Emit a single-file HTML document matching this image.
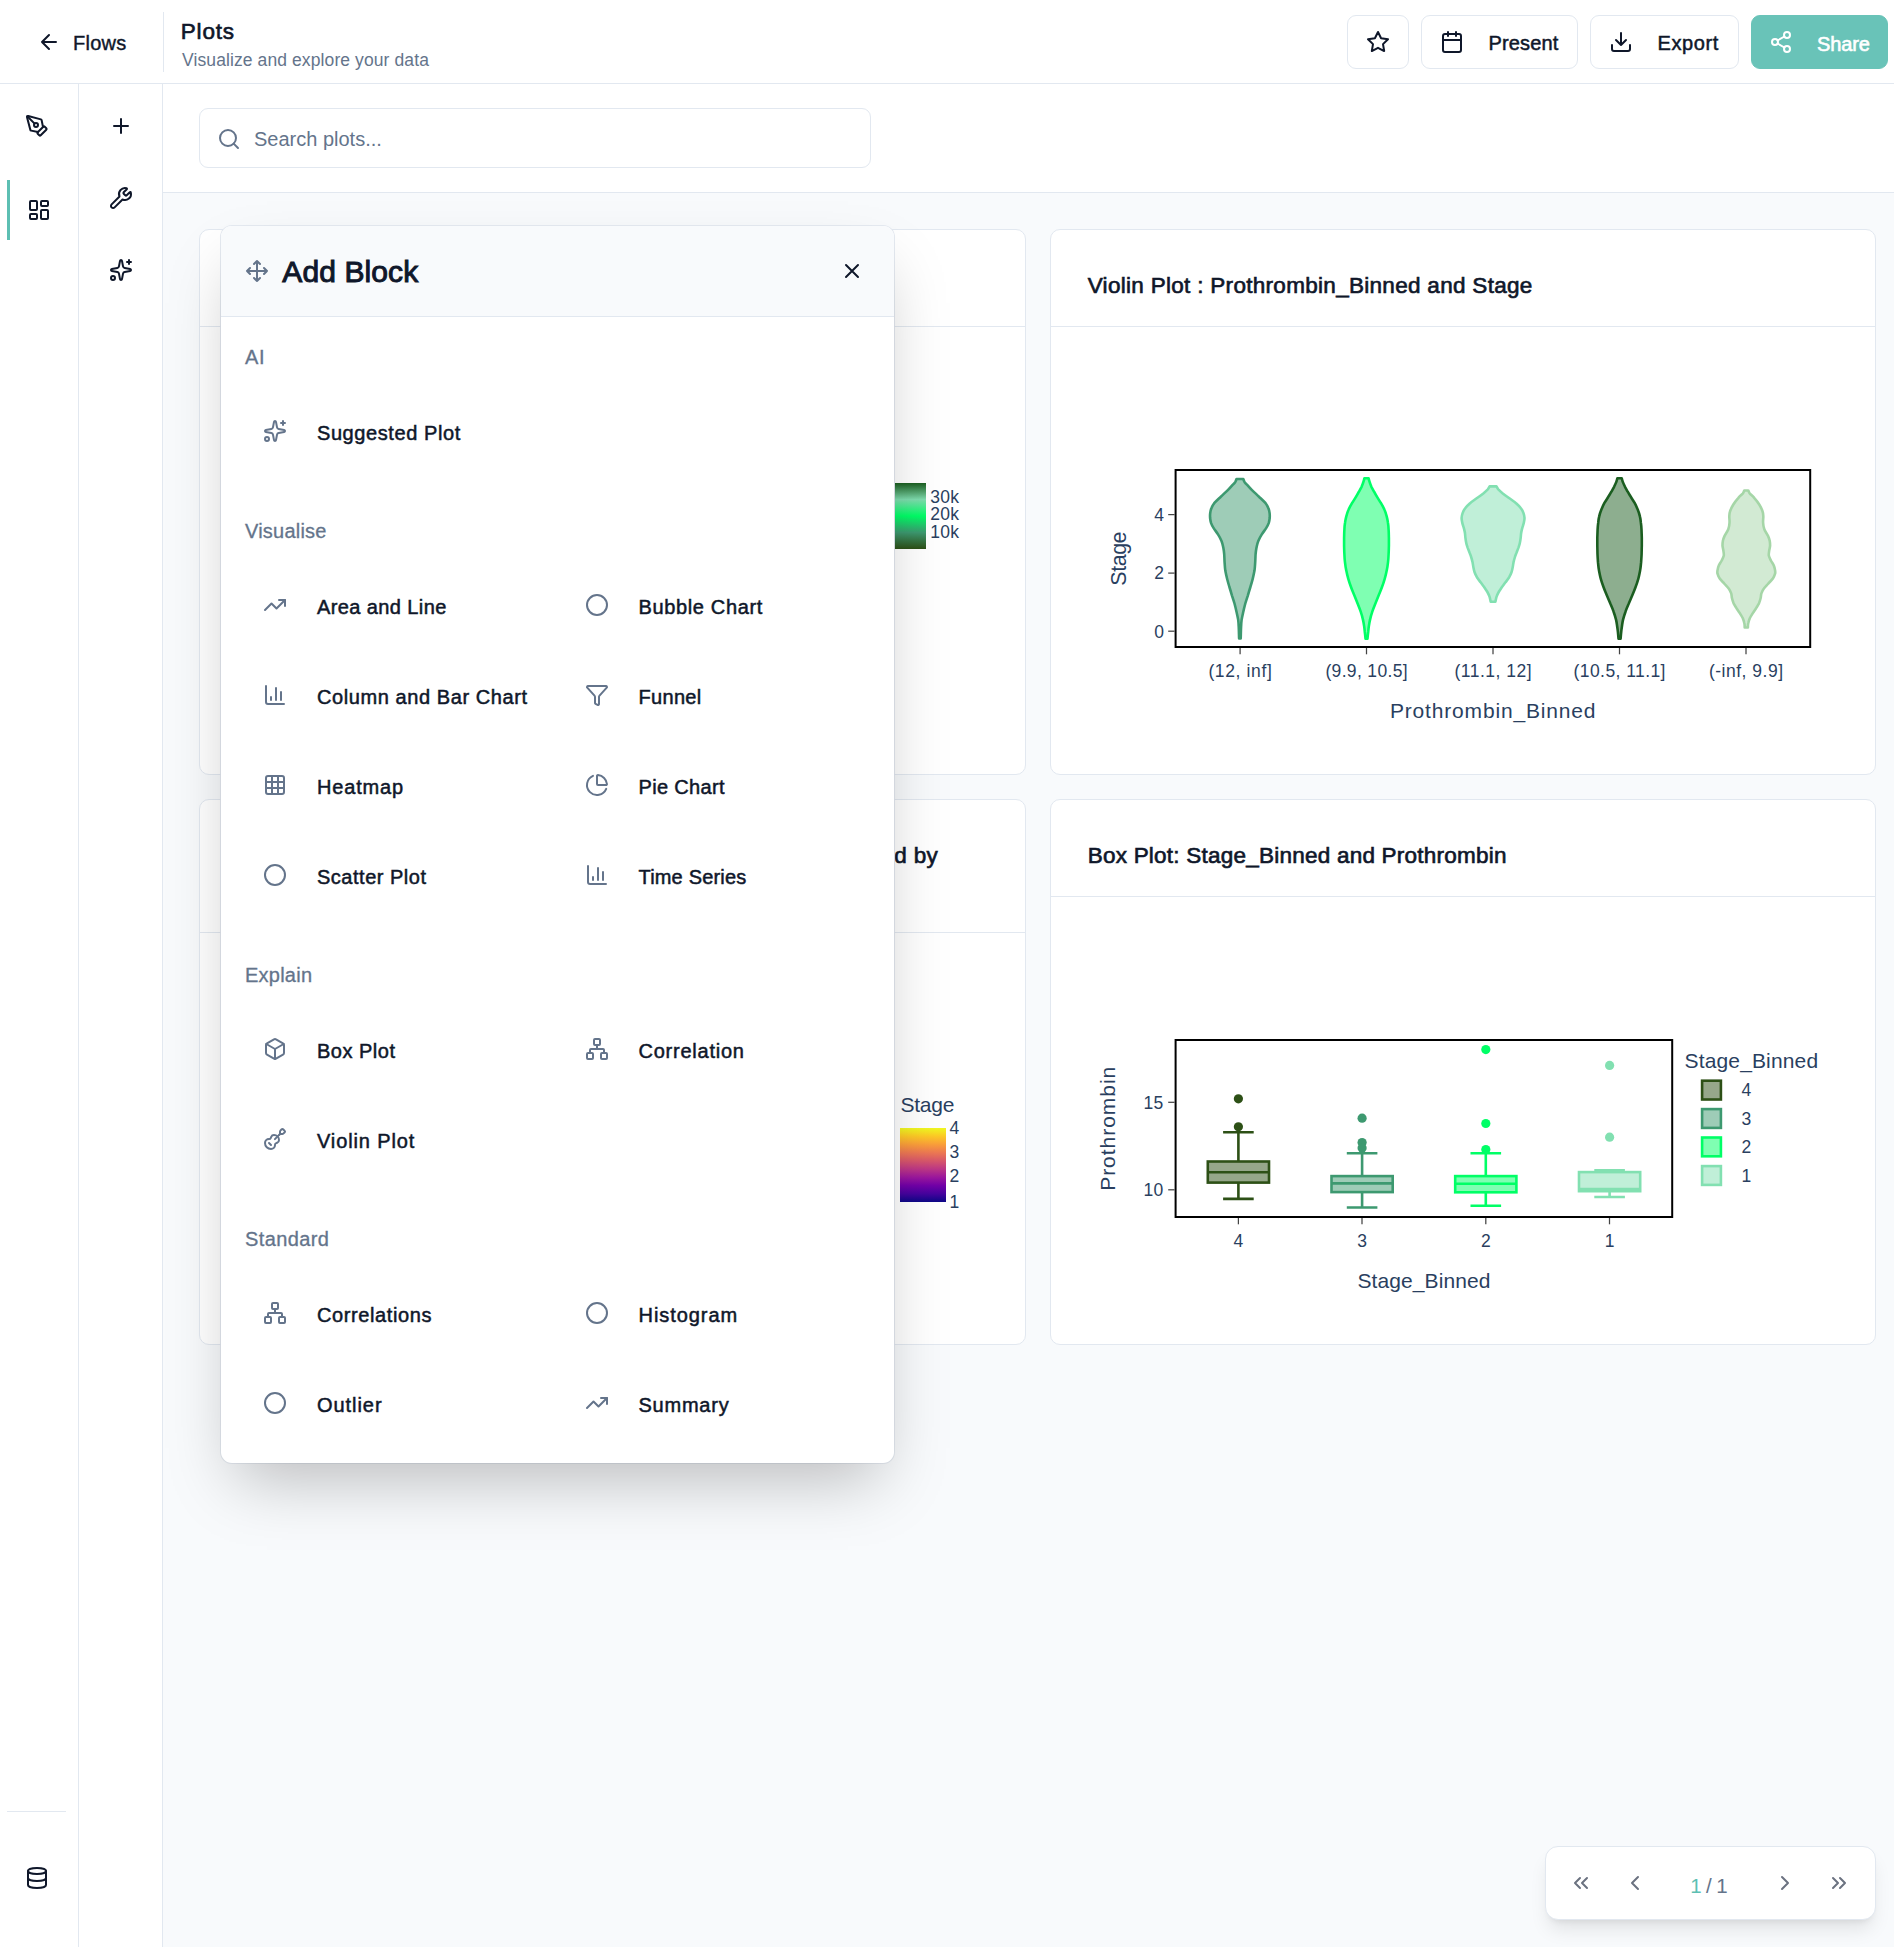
<!DOCTYPE html>
<html lang="en">
<head>
<meta charset="utf-8">
<title>Plots</title>
<style>
*{box-sizing:border-box;margin:0;padding:0}
html,body{width:1894px;height:1947px;overflow:hidden;background:#f8fafc;font-family:"Liberation Sans",sans-serif;color:#0f172a}
.abs{position:absolute}
svg{display:block}
.ico{fill:none;stroke:currentColor;stroke-width:2;stroke-linecap:round;stroke-linejoin:round}
/* header */
#header{position:absolute;left:0;top:0;width:1894px;height:84px;background:#fff;border-bottom:1px solid #e2e8f0}
#hdiv{position:absolute;left:163px;top:12px;width:1px;height:60px;background:#e2e8f0}
.t{position:absolute;white-space:nowrap;line-height:1}
.btn{position:absolute;top:15px;height:54px;border:1px solid #e2e8f0;border-radius:9px;background:#fff}
/* sidebars */
#sb1{position:absolute;left:0;top:84px;width:79px;height:1863px;background:#fff;border-right:1px solid #e2e8f0}
#sb2{position:absolute;left:79px;top:84px;width:84px;height:1863px;background:#fff;border-right:1px solid #e2e8f0}
#searchbar{position:absolute;left:163px;top:84px;width:1731px;height:109px;background:#fff;border-bottom:1px solid #e2e8f0}
#search{position:absolute;left:199px;top:108px;width:672px;height:60px;border:1px solid #e2e8f0;border-radius:9px;background:#fff}
.card{position:absolute;background:#fff;border:1px solid #e2e8f0;border-radius:10px;width:827px}
.card .hd{position:absolute;left:0;top:0;width:100%;border-bottom:1px solid #e2e8f0}
.ctitle{position:absolute;left:37px;font-size:22.5px;letter-spacing:0.3px;white-space:nowrap;color:#0f172a;-webkit-text-stroke:0.65px #0f172a}
/* modal */
#modal{position:absolute;left:221px;top:226px;width:673px;height:1237px;background:#fff;border-radius:11px;box-shadow:0 31px 62px -15px rgba(0,0,0,.25),0 0 0 1px rgba(226,232,240,.9);overflow:hidden}
#mhead{position:absolute;left:0;top:0;width:100%;height:91px;background:#f8fafc;border-bottom:1px solid #e2e8f0}
.sec{position:absolute;left:24px;font-size:20px;color:#64748b;white-space:nowrap;line-height:1;-webkit-text-stroke:0.3px #64748b}
.it{position:absolute;font-size:20px;color:#0f172a;white-space:nowrap;line-height:1;-webkit-text-stroke:0.5px #0f172a}
.mi{position:absolute;color:#64748b}
#pager{position:absolute;left:1544.7px;top:1846px;width:331.3px;height:74px;background:#fff;border:1px solid #e2e8f0;border-radius:13px;box-shadow:0 12.5px 19px -4px rgba(0,0,0,.1),0 5px 7.5px -5px rgba(0,0,0,.1)}
</style>
</head>
<body>
<!-- HEADER -->
<div id="header">
  <svg class="abs ico" style="left:36.8px;top:30px;color:#0f172a" width="24" height="24" viewBox="0 0 24 24"><path d="M19 12H5M12 19l-7-7 7-7"/></svg>
  <div class="t" id="tflows" style="left:73px;top:33px;font-size:20px;letter-spacing:0.25px;-webkit-text-stroke:0.4px #0f172a">Flows</div>
  <div id="hdiv"></div>
  <div class="t" id="tplots" style="left:180.8px;top:20.6px;font-size:22.5px;-webkit-text-stroke:0.65px #0f172a;letter-spacing:0.8px">Plots</div>
  <div class="t" id="tsub" style="left:182px;top:52px;font-size:17.5px;letter-spacing:0.10px;color:#64748b">Visualize and explore your data</div>

  <div class="btn" style="left:1347px;width:62px">
    <svg class="abs ico" style="left:17.8px;top:14.2px" width="24" height="24" viewBox="0 0 24 24"><polygon points="12 2 15.09 8.26 22 9.27 17 14.14 18.18 21.02 12 17.77 5.82 21.02 7 14.14 2 9.27 8.91 8.26 12 2"/></svg>
  </div>
  <div class="btn" style="left:1421px;width:157px">
    <svg class="abs ico" style="left:17.5px;top:14.3px" width="24" height="24" viewBox="0 0 24 24"><rect x="3" y="4" width="18" height="18" rx="2"/><path d="M16 2v4M8 2v4M3 10h18"/></svg>
    <div class="t" id="tpresent" style="left:66.5px;top:17px;font-size:20px;letter-spacing:0.15px;-webkit-text-stroke:0.5px #0f172a">Present</div>
  </div>
  <div class="btn" style="left:1590px;width:149px">
    <svg class="abs ico" style="left:17.8px;top:14.3px" width="24" height="24" viewBox="0 0 24 24"><path d="M21 15v4a2 2 0 0 1-2 2H5a2 2 0 0 1-2-2v-4M7 10l5 5 5-5M12 15V3"/></svg>
    <div class="t" id="texport" style="left:66.5px;top:17px;font-size:20px;letter-spacing:0.6px;-webkit-text-stroke:0.5px #0f172a">Export</div>
  </div>
  <div class="btn" style="left:1751px;width:137px;background:#69c3b8;border-color:#69c3b8;color:#fff">
    <svg class="abs ico" style="left:17.4px;top:14px" width="24" height="24" viewBox="0 0 24 24"><circle cx="18" cy="5" r="3"/><circle cx="6" cy="12" r="3"/><circle cx="18" cy="19" r="3"/><path d="M8.59 13.51l6.83 3.98M15.41 6.51l-6.82 3.98"/></svg>
    <div class="t" id="tshare" style="left:65px;top:17.7px;font-size:20px;-webkit-text-stroke:0.6px #fff;letter-spacing:-0.1px;color:#fff">Share</div>
  </div>
</div>

<!-- SIDEBARS -->
<div id="sb1">
  <svg class="abs ico" style="left:25px;top:30px" width="24" height="24" viewBox="0 0 24 24"><path d="M15.707 21.293a1 1 0 0 1-1.414 0l-1.586-1.586a1 1 0 0 1 0-1.414l5.586-5.586a1 1 0 0 1 1.414 0l1.586 1.586a1 1 0 0 1 0 1.414z"/><path d="m18 13-1.375-6.874a1 1 0 0 0-.746-.776L3.235 2.028a1 1 0 0 0-1.207 1.207L5.35 15.879a1 1 0 0 0 .776.746L13 18"/><path d="m2.3 2.3 7.286 7.286"/><circle cx="11" cy="11" r="2"/></svg>
  <div class="abs" style="left:7px;top:96px;width:3px;height:60px;background:#5dbfb3"></div>
  <svg class="abs ico" style="left:27px;top:114px" width="24" height="24" viewBox="0 0 24 24"><rect width="7" height="9" x="3" y="3" rx="1"/><rect width="7" height="5" x="14" y="3" rx="1"/><rect width="7" height="9" x="14" y="12" rx="1"/><rect width="7" height="5" x="3" y="16" rx="1"/></svg>
  <div class="abs" style="left:7px;top:1727px;width:59px;height:1px;background:#e2e8f0"></div>
  <svg class="abs ico" style="left:25px;top:1782px" width="24" height="24" viewBox="0 0 24 24"><ellipse cx="12" cy="5" rx="9" ry="3"/><path d="M3 5V19A9 3 0 0 0 21 19V5"/><path d="M3 12A9 3 0 0 0 21 12"/></svg>
</div>
<div id="sb2">
  <svg class="abs ico" style="left:30px;top:30px" width="24" height="24" viewBox="0 0 24 24"><path d="M5 12h14M12 5v14"/></svg>
  <svg class="abs ico" style="left:30px;top:102px" width="24" height="24" viewBox="0 0 24 24"><path d="M14.7 6.3a1 1 0 0 0 0 1.4l1.6 1.6a1 1 0 0 0 1.4 0l3.106-3.105c.32-.322.863-.22.983.218a6 6 0 0 1-8.259 7.057l-7.91 7.91a1 1 0 0 1-2.999-3l7.91-7.91a6 6 0 0 1 7.057-8.259c.438.12.54.662.219.984z"/></svg>
  <svg class="abs ico" style="left:30px;top:174px" width="24" height="24" viewBox="0 0 24 24"><path d="M11.017 2.814a1 1 0 0 1 1.966 0l1.051 5.558a2 2 0 0 0 1.594 1.594l5.558 1.051a1 1 0 0 1 0 1.966l-5.558 1.051a2 2 0 0 0-1.594 1.594l-1.051 5.558a1 1 0 0 1-1.966 0l-1.051-5.558a2 2 0 0 0-1.594-1.594l-5.558-1.051a1 1 0 0 1 0-1.966l5.558-1.051a2 2 0 0 0 1.594-1.594z"/><path d="M20 2v4M22 4h-4"/><circle cx="4" cy="20" r="2"/></svg>
</div>

<!-- SEARCH -->
<div id="searchbar"></div>
<div id="search">
  <svg class="abs ico" style="left:17.2px;top:18.2px;color:#64748b" width="24" height="24" viewBox="0 0 24 24"><circle cx="11" cy="11" r="8"/><path d="M21 21l-4.35-4.35"/></svg>
  <div class="t" id="tsearch" style="left:54px;top:20px;font-size:20px;color:#64748b">Search plots...</div>
</div>

<!-- CARDS -->
<div class="card" id="c1" style="left:199px;top:229px;height:546px"><div class="hd" style="height:97px"></div></div>
<div class="card" id="c2" style="left:1049.7px;width:826.5px;top:229px;height:546px"><div class="hd" style="height:97px"></div>
  <div class="ctitle" style="top:43px">Violin Plot : Prothrombin_Binned and Stage</div>
</div>
<div class="card" id="c3" style="left:199px;top:799px;height:546px"><div class="hd" style="height:133px"></div><div class="ctitle" id="t3" style="left:auto;right:87px;top:43px">Scatter Plot: Bilirubin and Albumin colored by</div></div>
<div class="card" id="c4" style="left:1049.7px;width:826.5px;top:799px;height:546px"><div class="hd" style="height:97px"></div>
  <div class="ctitle" style="top:43px;letter-spacing:0.23px">Box Plot: Stage_Binned and Prothrombin</div>
</div>

<!--CH-->
<svg class="abs" style="left:0;top:0" width="1894" height="1947" viewBox="0 0 1894 1947" font-family="Liberation Sans, sans-serif" fill="#2a3f5f">
<defs><linearGradient id="g1" x1="0" y1="0" x2="0" y2="1"><stop offset="0" stop-color="#1b5e20"/><stop offset="0.25" stop-color="#7fdcae"/><stop offset="0.5" stop-color="#00ff66"/><stop offset="0.75" stop-color="#3d9970"/><stop offset="1" stop-color="#2d5016"/></linearGradient>
<linearGradient id="g2" x1="0" y1="1" x2="0" y2="0"><stop offset="0" stop-color="#0d0887"/><stop offset="0.111" stop-color="#46039f"/><stop offset="0.222" stop-color="#7201a8"/><stop offset="0.333" stop-color="#9c179e"/><stop offset="0.444" stop-color="#bd3786"/><stop offset="0.556" stop-color="#d8576b"/><stop offset="0.667" stop-color="#ed7953"/><stop offset="0.778" stop-color="#fb9f3a"/><stop offset="0.889" stop-color="#fdca26"/><stop offset="1" stop-color="#f0f921"/></linearGradient></defs>
<rect x="895" y="483" width="31" height="66" fill="url(#g1)"/>
<text x="930.3" y="502.5" font-size="17.5" letter-spacing="0.2">30k</text>
<text x="930.3" y="519.5" font-size="17.5" letter-spacing="0.2">20k</text>
<text x="930.3" y="537.5" font-size="17.5" letter-spacing="0.2">10k</text>
<text x="900.5" y="1111.8" font-size="21" letter-spacing="-0.25">Stage</text>
<rect x="900" y="1128" width="46" height="74" fill="url(#g2)"/>
<text x="949.5" y="1134.2" font-size="17.5">4</text>
<text x="949.5" y="1157.8" font-size="17.5">3</text>
<text x="949.5" y="1182.3" font-size="17.5">2</text>
<text x="949.5" y="1207.6" font-size="17.5">1</text>
<rect x="1175.6" y="470" width="634.6" height="177" fill="#fff" stroke="#000" stroke-width="2"/>
<path d="M1168.2,514.6H1174.6" stroke="#444" stroke-width="1.25"/>
<text x="1164" y="520.9" font-size="17.5" text-anchor="end">4</text>
<path d="M1168.2,573.1H1174.6" stroke="#444" stroke-width="1.25"/>
<text x="1164" y="579.4" font-size="17.5" text-anchor="end">2</text>
<path d="M1168.2,631.2H1174.6" stroke="#444" stroke-width="1.25"/>
<text x="1164" y="637.5" font-size="17.5" text-anchor="end">0</text>
<text transform="translate(1126.2,558.8) rotate(-90)" font-size="21.5" text-anchor="middle" letter-spacing="-0.5">Stage</text>
<path d="M1240.1,648V654.3" stroke="#444" stroke-width="1.25"/>
<text x="1240.1" y="677" font-size="17.5" text-anchor="middle" textLength="63.4" lengthAdjust="spacing">(12, inf]</text>
<path d="M1366.5,648V654.3" stroke="#444" stroke-width="1.25"/>
<text x="1366.5" y="677" font-size="17.5" text-anchor="middle" textLength="82.2" lengthAdjust="spacing">(9.9, 10.5]</text>
<path d="M1493,648V654.3" stroke="#444" stroke-width="1.25"/>
<text x="1493" y="677" font-size="17.5" text-anchor="middle" textLength="77.1" lengthAdjust="spacing">(11.1, 12]</text>
<path d="M1619.5,648V654.3" stroke="#444" stroke-width="1.25"/>
<text x="1619.5" y="677" font-size="17.5" text-anchor="middle" textLength="91.9" lengthAdjust="spacing">(10.5, 11.1]</text>
<path d="M1746,648V654.3" stroke="#444" stroke-width="1.25"/>
<text x="1746" y="677" font-size="17.5" text-anchor="middle" textLength="74.1" lengthAdjust="spacing">(-inf, 9.9]</text>
<text x="1492.7" y="718.2" font-size="21" text-anchor="middle" textLength="205.5" lengthAdjust="spacing">Prothrombin_Binned</text>
<path d="M1243.3,479.0C1243.5,479.5 1243.8,480.8 1244.5,481.9C1245.2,482.9 1246.1,483.8 1247.4,485.1C1248.6,486.5 1250.1,488.2 1252.0,490.1C1253.9,492.0 1256.7,494.5 1259.0,496.7C1261.2,498.8 1264.0,501.3 1265.6,503.2C1267.1,505.1 1267.8,506.5 1268.4,508.2C1269.1,509.8 1269.4,511.4 1269.6,513.1C1269.8,514.7 1269.8,516.4 1269.7,518.0C1269.5,519.7 1269.3,521.3 1268.8,522.9C1268.2,524.6 1267.5,526.0 1266.3,527.9C1265.1,529.8 1263.1,532.3 1261.8,534.4C1260.4,536.6 1259.2,538.8 1258.3,541.0C1257.4,543.2 1257.0,545.4 1256.5,547.6C1256.1,549.8 1255.8,551.7 1255.6,554.2C1255.4,556.6 1255.4,559.6 1255.2,562.4C1255.0,565.1 1254.9,567.9 1254.5,570.6C1254.0,573.3 1253.4,576.1 1252.7,578.8C1252.0,581.6 1251.2,584.3 1250.4,587.0C1249.5,589.8 1248.7,592.5 1247.9,595.3C1247.0,598.0 1246.1,600.7 1245.3,603.5C1244.6,606.2 1243.9,608.9 1243.3,611.7C1242.7,614.4 1242.0,617.4 1241.6,619.9C1241.3,622.4 1241.2,623.4 1241.1,626.5C1240.9,629.6 1240.8,636.4 1240.7,638.4L1239.1,638.4C1239.0,636.4 1238.9,629.6 1238.7,626.5C1238.6,623.4 1238.5,622.4 1238.2,619.9C1237.8,617.4 1237.1,614.4 1236.5,611.7C1235.9,608.9 1235.2,606.2 1234.5,603.5C1233.7,600.7 1232.8,598.0 1231.9,595.3C1231.1,592.5 1230.3,589.8 1229.4,587.0C1228.6,584.3 1227.8,581.6 1227.1,578.8C1226.4,576.1 1225.8,573.3 1225.3,570.6C1224.9,567.9 1224.8,565.1 1224.6,562.4C1224.4,559.6 1224.4,556.6 1224.2,554.2C1224.0,551.7 1223.7,549.8 1223.3,547.6C1222.8,545.4 1222.4,543.2 1221.5,541.0C1220.6,538.8 1219.4,536.6 1218.0,534.4C1216.7,532.3 1214.7,529.8 1213.5,527.9C1212.3,526.0 1211.6,524.6 1211.0,522.9C1210.5,521.3 1210.3,519.7 1210.1,518.0C1210.0,516.4 1210.0,514.7 1210.2,513.1C1210.4,511.4 1210.7,509.8 1211.4,508.2C1212.0,506.5 1212.7,505.1 1214.2,503.2C1215.8,501.3 1218.6,498.8 1220.8,496.7C1223.1,494.5 1225.9,492.0 1227.8,490.1C1229.7,488.2 1231.2,486.5 1232.4,485.1C1233.7,483.8 1234.6,482.9 1235.3,481.9C1236.0,480.8 1236.3,479.5 1236.5,479.0Z" fill="#3d9970" fill-opacity="0.5" stroke="#3d9970" stroke-width="2.6" stroke-linejoin="round"/>
<path d="M1368.6,478.2C1368.7,478.8 1369.1,480.4 1369.6,481.9C1370.0,483.3 1370.7,485.1 1371.4,486.8C1372.2,488.4 1373.2,490.1 1374.1,491.7C1375.0,493.4 1375.7,494.7 1376.9,496.7C1378.0,498.6 1379.7,501.0 1381.0,503.2C1382.3,505.4 1383.6,507.6 1384.5,509.8C1385.5,512.0 1386.1,514.2 1386.7,516.4C1387.3,518.6 1387.7,520.8 1388.0,522.9C1388.4,525.1 1388.5,527.1 1388.6,529.5C1388.8,532.0 1388.8,535.0 1388.9,537.7C1388.9,540.5 1388.9,543.2 1388.9,546.0C1388.8,548.7 1388.8,551.4 1388.6,554.2C1388.5,556.9 1388.4,559.6 1388.0,562.4C1387.7,565.1 1387.3,567.9 1386.7,570.6C1386.2,573.3 1385.5,576.1 1384.7,578.8C1383.9,581.6 1383.0,584.3 1382.0,587.0C1381.0,589.8 1379.8,592.5 1378.7,595.3C1377.6,598.0 1376.5,600.7 1375.4,603.5C1374.3,606.2 1373.2,608.9 1372.3,611.7C1371.4,614.4 1370.5,617.4 1370.0,619.9C1369.4,622.4 1369.1,624.5 1368.8,626.5C1368.5,628.5 1368.4,630.0 1368.2,632.0C1367.9,634.0 1367.6,637.5 1367.5,638.6L1365.5,638.6C1365.4,637.5 1365.1,634.0 1364.8,632.0C1364.6,630.0 1364.5,628.5 1364.2,626.5C1363.9,624.5 1363.6,622.4 1363.0,619.9C1362.5,617.4 1361.6,614.4 1360.7,611.7C1359.8,608.9 1358.7,606.2 1357.6,603.5C1356.5,600.7 1355.4,598.0 1354.3,595.3C1353.2,592.5 1352.0,589.8 1351.0,587.0C1350.0,584.3 1349.1,581.6 1348.3,578.8C1347.5,576.1 1346.8,573.3 1346.3,570.6C1345.7,567.9 1345.3,565.1 1345.0,562.4C1344.6,559.6 1344.5,556.9 1344.4,554.2C1344.2,551.4 1344.2,548.7 1344.1,546.0C1344.1,543.2 1344.1,540.5 1344.1,537.7C1344.2,535.0 1344.2,532.0 1344.4,529.5C1344.5,527.1 1344.6,525.1 1345.0,522.9C1345.3,520.8 1345.7,518.6 1346.3,516.4C1346.9,514.2 1347.5,512.0 1348.5,509.8C1349.4,507.6 1350.7,505.4 1352.0,503.2C1353.3,501.0 1355.0,498.6 1356.1,496.7C1357.3,494.7 1358.0,493.4 1358.9,491.7C1359.8,490.1 1360.8,488.4 1361.6,486.8C1362.3,485.1 1363.0,483.3 1363.4,481.9C1363.9,480.4 1364.3,478.8 1364.4,478.2Z" fill="#00ff66" fill-opacity="0.5" stroke="#00ff66" stroke-width="2.6" stroke-linejoin="round"/>
<path d="M1496.5,486.4C1496.8,486.9 1497.3,488.1 1498.3,489.3C1499.4,490.4 1501.0,491.9 1502.8,493.4C1504.7,494.9 1507.2,496.7 1509.4,498.3C1511.6,499.9 1514.1,501.6 1516.0,503.2C1517.9,504.9 1519.7,506.5 1520.9,508.2C1522.2,509.8 1522.9,511.4 1523.5,513.1C1524.1,514.7 1524.4,516.4 1524.5,518.0C1524.5,519.7 1524.2,521.3 1523.8,522.9C1523.4,524.6 1522.8,526.2 1522.3,527.9C1521.9,529.5 1521.4,531.2 1521.2,532.8C1520.9,534.4 1520.9,536.1 1520.7,537.7C1520.5,539.4 1520.3,541.0 1519.9,542.7C1519.6,544.3 1519.0,546.0 1518.5,547.6C1517.9,549.2 1517.2,550.9 1516.6,552.5C1515.9,554.2 1515.3,555.8 1514.8,557.5C1514.3,559.1 1513.9,560.7 1513.5,562.4C1513.2,564.0 1513.0,565.7 1512.7,567.3C1512.4,569.0 1512.1,570.6 1511.5,572.2C1510.9,573.9 1510.1,575.5 1509.2,577.2C1508.2,578.8 1506.9,580.5 1505.7,582.1C1504.5,583.8 1503.2,585.4 1502.0,587.0C1500.9,588.7 1499.7,590.3 1498.7,592.0C1497.8,593.6 1497.1,595.3 1496.5,596.9C1496.0,598.5 1495.6,601.0 1495.4,601.8L1490.7,601.8C1490.5,601.0 1490.1,598.5 1489.6,596.9C1489.0,595.3 1488.3,593.6 1487.4,592.0C1486.4,590.3 1485.2,588.7 1484.1,587.0C1482.9,585.4 1481.6,583.8 1480.4,582.1C1479.2,580.5 1477.9,578.8 1476.9,577.2C1476.0,575.5 1475.2,573.9 1474.6,572.2C1474.0,570.6 1473.7,569.0 1473.4,567.3C1473.1,565.7 1472.9,564.0 1472.6,562.4C1472.2,560.7 1471.8,559.1 1471.3,557.5C1470.8,555.8 1470.2,554.2 1469.5,552.5C1468.9,550.9 1468.2,549.2 1467.6,547.6C1467.1,546.0 1466.5,544.3 1466.2,542.7C1465.8,541.0 1465.6,539.4 1465.4,537.7C1465.2,536.1 1465.2,534.4 1464.9,532.8C1464.7,531.2 1464.2,529.5 1463.8,527.9C1463.3,526.2 1462.7,524.6 1462.3,522.9C1461.9,521.3 1461.6,519.7 1461.6,518.0C1461.7,516.4 1462.0,514.7 1462.6,513.1C1463.2,511.4 1463.9,509.8 1465.2,508.2C1466.4,506.5 1468.2,504.9 1470.1,503.2C1472.0,501.6 1474.5,499.9 1476.7,498.3C1478.9,496.7 1481.4,494.9 1483.3,493.4C1485.1,491.9 1486.7,490.4 1487.8,489.3C1488.8,488.1 1489.3,486.9 1489.6,486.4Z" fill="#82e0b1" fill-opacity="0.5" stroke="#82e0b1" stroke-width="2.6" stroke-linejoin="round"/>
<path d="M1621.7,478.2C1621.9,478.8 1622.2,480.4 1622.8,481.9C1623.3,483.3 1624.2,485.1 1625.0,486.8C1625.8,488.4 1626.8,490.1 1627.7,491.7C1628.6,493.4 1629.5,494.7 1630.7,496.7C1631.8,498.6 1633.6,501.0 1634.8,503.2C1636.0,505.4 1636.9,507.6 1637.8,509.8C1638.7,512.0 1639.4,514.2 1639.9,516.4C1640.5,518.6 1640.7,520.8 1640.9,522.9C1641.2,525.1 1641.4,527.1 1641.5,529.5C1641.6,532.0 1641.7,535.0 1641.8,537.7C1641.8,540.5 1641.8,543.2 1641.8,546.0C1641.7,548.7 1641.7,551.4 1641.6,554.2C1641.5,556.9 1641.3,559.6 1641.1,562.4C1640.8,565.1 1640.6,567.9 1640.1,570.6C1639.6,573.3 1639.1,576.1 1638.3,578.8C1637.5,581.6 1636.6,584.3 1635.6,587.0C1634.6,589.8 1633.4,592.5 1632.3,595.3C1631.2,598.0 1629.9,600.7 1628.8,603.5C1627.6,606.2 1626.4,608.9 1625.5,611.7C1624.5,614.4 1623.6,617.4 1623.0,619.9C1622.4,622.4 1622.2,624.5 1621.9,626.5C1621.6,628.5 1621.4,630.0 1621.2,632.0C1621.0,634.0 1620.7,637.5 1620.6,638.6L1618.5,638.6C1618.4,637.5 1618.1,634.0 1617.9,632.0C1617.7,630.0 1617.5,628.5 1617.2,626.5C1616.9,624.5 1616.7,622.4 1616.1,619.9C1615.5,617.4 1614.6,614.4 1613.6,611.7C1612.7,608.9 1611.5,606.2 1610.3,603.5C1609.2,600.7 1607.9,598.0 1606.8,595.3C1605.7,592.5 1604.5,589.8 1603.5,587.0C1602.5,584.3 1601.6,581.6 1600.8,578.8C1600.0,576.1 1599.5,573.3 1599.0,570.6C1598.5,567.9 1598.3,565.1 1598.0,562.4C1597.8,559.6 1597.6,556.9 1597.5,554.2C1597.4,551.4 1597.4,548.7 1597.3,546.0C1597.3,543.2 1597.3,540.5 1597.3,537.7C1597.4,535.0 1597.5,532.0 1597.6,529.5C1597.7,527.1 1597.9,525.1 1598.2,522.9C1598.4,520.8 1598.6,518.6 1599.2,516.4C1599.7,514.2 1600.4,512.0 1601.3,509.8C1602.2,507.6 1603.1,505.4 1604.3,503.2C1605.5,501.0 1607.3,498.6 1608.4,496.7C1609.6,494.7 1610.5,493.4 1611.4,491.7C1612.3,490.1 1613.3,488.4 1614.1,486.8C1614.9,485.1 1615.8,483.3 1616.3,481.9C1616.9,480.4 1617.2,478.8 1617.4,478.2Z" fill="#1b5e20" fill-opacity="0.5" stroke="#1b5e20" stroke-width="2.6" stroke-linejoin="round"/>
<path d="M1748.3,490.5C1748.6,491.0 1748.9,492.3 1749.9,493.6C1751.0,494.8 1752.9,496.2 1754.4,498.1C1756.0,499.9 1758.0,502.5 1759.4,504.7C1760.7,506.8 1761.8,509.3 1762.5,511.2C1763.2,513.1 1763.2,514.2 1763.3,516.2C1763.4,518.1 1762.9,520.5 1763.1,522.7C1763.2,524.9 1763.5,527.1 1764.3,529.3C1765.1,531.5 1767.1,534.0 1768.0,535.9C1768.9,537.8 1769.3,539.2 1769.7,540.8C1770.0,542.4 1770.1,544.1 1770.1,545.7C1770.0,547.4 1769.4,549.0 1769.2,550.7C1769.0,552.3 1768.6,554.0 1768.8,555.6C1769.1,557.2 1770.1,558.9 1770.9,560.5C1771.7,562.2 1773.1,563.8 1773.8,565.5C1774.5,567.1 1774.9,569.0 1775.1,570.4C1775.3,571.8 1775.4,572.3 1775.1,573.7C1774.7,575.0 1774.0,577.0 1772.9,578.6C1771.8,580.2 1769.9,581.9 1768.4,583.5C1766.9,585.2 1765.1,586.8 1763.9,588.5C1762.7,590.1 1762.0,591.8 1761.4,593.4C1760.9,595.0 1761.0,596.7 1760.6,598.3C1760.2,600.0 1759.7,601.6 1759.0,603.3C1758.2,604.9 1757.1,606.5 1756.1,608.2C1755.1,609.8 1753.8,611.5 1752.8,613.1C1751.8,614.8 1750.7,616.4 1749.9,618.0C1749.2,619.7 1748.6,621.4 1748.3,623.0C1747.9,624.5 1747.9,626.7 1747.9,627.5L1744.7,627.5C1744.7,626.7 1744.7,624.5 1744.3,623.0C1744.0,621.4 1743.4,619.7 1742.7,618.0C1741.9,616.4 1740.8,614.8 1739.8,613.1C1738.8,611.5 1737.5,609.8 1736.5,608.2C1735.5,606.5 1734.4,604.9 1733.6,603.3C1732.9,601.6 1732.4,600.0 1732.0,598.3C1731.6,596.7 1731.7,595.0 1731.2,593.4C1730.6,591.8 1729.9,590.1 1728.7,588.5C1727.5,586.8 1725.7,585.2 1724.2,583.5C1722.7,581.9 1720.8,580.2 1719.7,578.6C1718.6,577.0 1717.9,575.0 1717.5,573.7C1717.2,572.3 1717.3,571.8 1717.5,570.4C1717.7,569.0 1718.1,567.1 1718.8,565.5C1719.5,563.8 1720.9,562.2 1721.7,560.5C1722.5,558.9 1723.5,557.2 1723.8,555.6C1724.0,554.0 1723.6,552.3 1723.4,550.7C1723.2,549.0 1722.6,547.4 1722.5,545.7C1722.5,544.1 1722.6,542.4 1722.9,540.8C1723.3,539.2 1723.7,537.8 1724.6,535.9C1725.5,534.0 1727.5,531.5 1728.3,529.3C1729.1,527.1 1729.4,524.9 1729.5,522.7C1729.7,520.5 1729.2,518.1 1729.3,516.2C1729.4,514.2 1729.4,513.1 1730.1,511.2C1730.8,509.3 1731.9,506.8 1733.2,504.7C1734.6,502.5 1736.6,499.9 1738.2,498.1C1739.7,496.2 1741.6,494.8 1742.7,493.6C1743.7,492.3 1744.0,491.0 1744.3,490.5Z" fill="#a5d6a7" fill-opacity="0.5" stroke="#a5d6a7" stroke-width="2.6" stroke-linejoin="round"/>
<rect x="1175.6" y="1040" width="496.6" height="177" fill="#fff" stroke="#000" stroke-width="2"/>
<path d="M1168.2,1102.3H1174.6" stroke="#444" stroke-width="1.25"/>
<text x="1163.5" y="1108.6" font-size="17.5" text-anchor="end" letter-spacing="0.3">15</text>
<path d="M1168.2,1189.8H1174.6" stroke="#444" stroke-width="1.25"/>
<text x="1163.5" y="1196.1" font-size="17.5" text-anchor="end" letter-spacing="0.3">10</text>
<text transform="translate(1115,1128.8) rotate(-90)" font-size="21" text-anchor="middle" textLength="124" lengthAdjust="spacing">Prothrombin</text>
<path d="M1238.4,1218V1224.3" stroke="#444" stroke-width="1.25"/>
<text x="1238.4" y="1246.7" font-size="17.5" text-anchor="middle">4</text>
<path d="M1362,1218V1224.3" stroke="#444" stroke-width="1.25"/>
<text x="1362" y="1246.7" font-size="17.5" text-anchor="middle">3</text>
<path d="M1485.8,1218V1224.3" stroke="#444" stroke-width="1.25"/>
<text x="1485.8" y="1246.7" font-size="17.5" text-anchor="middle">2</text>
<path d="M1609.5,1218V1224.3" stroke="#444" stroke-width="1.25"/>
<text x="1609.5" y="1246.7" font-size="17.5" text-anchor="middle">1</text>
<text x="1423.9" y="1288.2" font-size="21" text-anchor="middle" textLength="133" lengthAdjust="spacing">Stage_Binned</text>
<g stroke="#2d5016" stroke-width="2.6" fill="none">
<path d="M1238.4,1161.5V1132.3M1223.1000000000001,1132.3H1253.7M1238.4,1182.6V1198.9M1223.1000000000001,1198.9H1253.7"/>
<rect x="1207.8" y="1161.5" width="61.2" height="21.1" fill="#2d5016" fill-opacity="0.5"/>
<path d="M1207.8,1172.3H1269.0"/>
</g>
<circle cx="1238.4" cy="1098.8" r="4.6" fill="#2d5016"/>
<circle cx="1238.4" cy="1126.8" r="4.6" fill="#2d5016"/>
<g stroke="#3d9970" stroke-width="2.6" fill="none">
<path d="M1362.1,1176.1V1153.3M1346.8,1153.3H1377.3999999999999M1362.1,1192.1V1207.5M1346.8,1207.5H1377.3999999999999"/>
<rect x="1331.5" y="1176.1" width="61.2" height="16.0" fill="#3d9970" fill-opacity="0.5"/>
<path d="M1331.5,1183.4H1392.7"/>
</g>
<circle cx="1362.1" cy="1118.2" r="4.6" fill="#3d9970"/>
<circle cx="1362.1" cy="1142.5" r="4.6" fill="#3d9970"/>
<circle cx="1362.1" cy="1148" r="4.6" fill="#3d9970"/>
<g stroke="#00ff66" stroke-width="2.6" fill="none">
<path d="M1485.8,1176.1V1153.3M1470.5,1153.3H1501.1M1485.8,1192.3V1205.8M1470.5,1205.8H1501.1"/>
<rect x="1455.2" y="1176.1" width="61.2" height="16.2" fill="#00ff66" fill-opacity="0.5"/>
<path d="M1455.2,1183.7H1516.4"/>
</g>
<circle cx="1485.8" cy="1049.6" r="4.6" fill="#00ff66"/>
<circle cx="1485.8" cy="1123.5" r="4.6" fill="#00ff66"/>
<circle cx="1485.8" cy="1149.5" r="4.6" fill="#00ff66"/>
<g stroke="#82e0b1" stroke-width="2.6" fill="none">
<path d="M1609.6,1172.1V1170.4M1594.3,1170.4H1624.8999999999999M1609.6,1191.2V1197M1594.3,1197H1624.8999999999999"/>
<rect x="1579.0" y="1172.1" width="61.2" height="19.1" fill="#82e0b1" fill-opacity="0.5"/>
<path d="M1579.0,1189H1640.2"/>
</g>
<circle cx="1609.6" cy="1065.4" r="4.6" fill="#82e0b1"/>
<circle cx="1609.6" cy="1137.2" r="4.6" fill="#82e0b1"/>
<text x="1684.5" y="1068.2" font-size="21" textLength="133.6" lengthAdjust="spacing">Stage_Binned</text>
<rect x="1702.1" y="1080.7" width="18.8" height="18.8" fill="#2d5016" fill-opacity="0.5" stroke="#2d5016" stroke-width="2.6"/>
<text x="1741.5" y="1096.2" font-size="17.5">4</text>
<rect x="1702.1" y="1109.1" width="18.8" height="18.8" fill="#3d9970" fill-opacity="0.5" stroke="#3d9970" stroke-width="2.6"/>
<text x="1741.5" y="1124.6" font-size="17.5">3</text>
<rect x="1702.1" y="1137.5" width="18.8" height="18.8" fill="#00ff66" fill-opacity="0.5" stroke="#00ff66" stroke-width="2.6"/>
<text x="1741.5" y="1153.0" font-size="17.5">2</text>
<rect x="1702.1" y="1166.1" width="18.8" height="18.8" fill="#82e0b1" fill-opacity="0.5" stroke="#82e0b1" stroke-width="2.6"/>
<text x="1741.5" y="1181.6" font-size="17.5">1</text>
</svg>
<!--/CH-->

<!-- MODAL -->
<div id="modal">
  <div id="mhead">
    <svg class="abs ico" style="left:24px;top:33px;color:#64748b" width="24" height="24" viewBox="0 0 24 24"><path d="M12 2v20M15 19l-3 3-3-3M19 9l3 3-3 3M2 12h20M5 9l-3 3 3 3M9 5l3-3 3 3"/></svg>
    <div class="t" id="taddblock" style="left:61.3px;top:31.2px;font-size:30px;-webkit-text-stroke:1px #0f172a;letter-spacing:0.1px">Add Block</div>
    <svg class="abs ico" style="left:619px;top:33px;color:#0f172a" width="24" height="24" viewBox="0 0 24 24"><path d="M18 6 6 18M6 6l12 12"/></svg>
  </div>
<!--MI-->
  <div class="sec" style="top:121px;letter-spacing:0.6px">AI</div>
  <div class="sec" style="top:295px;letter-spacing:0.22px">Visualise</div>
  <div class="sec" style="top:739px;letter-spacing:0.24px">Explain</div>
  <div class="sec" style="top:1003px;letter-spacing:0.4px">Standard</div>
  <svg class="mi ico" style="left:42px;top:193px" width="24" height="24" viewBox="0 0 24 24"><path d="M11.017 2.814a1 1 0 0 1 1.966 0l1.051 5.558a2 2 0 0 0 1.594 1.594l5.558 1.051a1 1 0 0 1 0 1.966l-5.558 1.051a2 2 0 0 0-1.594 1.594l-1.051 5.558a1 1 0 0 1-1.966 0l-1.051-5.558a2 2 0 0 0-1.594-1.594l-5.558-1.051a1 1 0 0 1 0-1.966l5.558-1.051a2 2 0 0 0 1.594-1.594z"/><path d="M20 2v4M22 4h-4"/><circle cx="4" cy="20" r="2"/></svg>
  <div class="it" style="left:96px;top:197px;letter-spacing:0.58px">Suggested Plot</div>
  <svg class="mi ico" style="left:42px;top:367px" width="24" height="24" viewBox="0 0 24 24"><path d="M16 7h6v6"/><path d="m22 7-8.5 8.5-5-5L2 17"/></svg>
  <div class="it" style="left:96px;top:371px;letter-spacing:0.40px">Area and Line</div>
  <svg class="mi ico" style="left:364px;top:367px" width="24" height="24" viewBox="0 0 24 24"><circle cx="12" cy="12" r="10"/></svg>
  <div class="it" style="left:417.5px;top:371px;letter-spacing:0.64px">Bubble Chart</div>
  <svg class="mi ico" style="left:42px;top:457px" width="24" height="24" viewBox="0 0 24 24"><path d="M3 3v16a2 2 0 0 0 2 2h16"/><path d="M18 17V9"/><path d="M13 17V5"/><path d="M8 17v-3"/></svg>
  <div class="it" style="left:96px;top:461px;letter-spacing:0.58px">Column and Bar Chart</div>
  <svg class="mi ico" style="left:364px;top:457px" width="24" height="24" viewBox="0 0 24 24"><path d="M10 20a1 1 0 0 0 .553.895l2 1A1 1 0 0 0 14 21v-7a2 2 0 0 1 .517-1.341L21.74 4.67A1 1 0 0 0 21 3H3a1 1 0 0 0-.742 1.67l7.225 7.989A2 2 0 0 1 10 14z"/></svg>
  <div class="it" style="left:417.5px;top:461px;letter-spacing:0.32px">Funnel</div>
  <svg class="mi ico" style="left:42px;top:547px" width="24" height="24" viewBox="0 0 24 24"><rect width="18" height="18" x="3" y="3" rx="2"/><path d="M3 9h18M3 15h18M9 3v18M15 3v18"/></svg>
  <div class="it" style="left:96px;top:551px;letter-spacing:0.84px">Heatmap</div>
  <svg class="mi ico" style="left:364px;top:547px" width="24" height="24" viewBox="0 0 24 24"><path d="M21 12c.552 0 1.005-.449.95-.998a10 10 0 0 0-8.953-8.951c-.55-.055-.998.398-.998.95v8a1 1 0 0 0 1 1z"/><path d="M21.21 15.89A10 10 0 1 1 8 2.83"/></svg>
  <div class="it" style="left:417.5px;top:551px;letter-spacing:0.34px">Pie Chart</div>
  <svg class="mi ico" style="left:42px;top:637px" width="24" height="24" viewBox="0 0 24 24"><circle cx="12" cy="12" r="10"/></svg>
  <div class="it" style="left:96px;top:641px;letter-spacing:0.51px">Scatter Plot</div>
  <svg class="mi ico" style="left:364px;top:637px" width="24" height="24" viewBox="0 0 24 24"><path d="M3 3v16a2 2 0 0 0 2 2h16"/><path d="M18 17V9"/><path d="M13 17V5"/><path d="M8 17v-3"/></svg>
  <div class="it" style="left:417.5px;top:641px;letter-spacing:0.18px">Time Series</div>
  <svg class="mi ico" style="left:42px;top:811px" width="24" height="24" viewBox="0 0 24 24"><path d="M21 8a2 2 0 0 0-1-1.73l-7-4a2 2 0 0 0-2 0l-7 4A2 2 0 0 0 3 8v8a2 2 0 0 0 1 1.73l7 4a2 2 0 0 0 2 0l7-4A2 2 0 0 0 21 16Z"/><path d="m3.3 7 8.7 5 8.7-5"/><path d="M12 22V12"/></svg>
  <div class="it" style="left:96px;top:815px;letter-spacing:0.50px">Box Plot</div>
  <svg class="mi ico" style="left:364px;top:811px" width="24" height="24" viewBox="0 0 24 24"><rect x="16" y="16" width="6" height="6" rx="1"/><rect x="2" y="16" width="6" height="6" rx="1"/><rect x="9" y="2" width="6" height="6" rx="1"/><path d="M5 16v-3a1 1 0 0 1 1-1h12a1 1 0 0 1 1 1v3"/><path d="M12 12V8"/></svg>
  <div class="it" style="left:417.5px;top:815px;letter-spacing:0.76px">Correlation</div>
  <svg class="mi ico" style="left:42px;top:901px" width="24" height="24" viewBox="0 0 24 24"><path d="m11.9 12.1 4.514-4.514"/><path d="M20.1 2.3a1 1 0 0 0-1.4 0l-1.114 1.114A2 2 0 0 0 17 4.828v1.344a2 2 0 0 1-.586 1.414A2 2 0 0 1 17.828 7h1.344a2 2 0 0 0 1.414-.586L21.7 5.3a1 1 0 0 0 0-1.4z"/><path d="m6 16 2 2"/><path d="M8.23 9.85A3 3 0 0 1 11 8a5 5 0 0 1 5 5 3 3 0 0 1-1.85 2.77l-.92.38A2 2 0 0 0 12 18a4 4 0 0 1-4 4 6 6 0 0 1-6-6 4 4 0 0 1 4-4 2 2 0 0 0 1.85-1.23z"/></svg>
  <div class="it" style="left:96px;top:905px;letter-spacing:0.88px">Violin Plot</div>
  <svg class="mi ico" style="left:42px;top:1075px" width="24" height="24" viewBox="0 0 24 24"><rect x="16" y="16" width="6" height="6" rx="1"/><rect x="2" y="16" width="6" height="6" rx="1"/><rect x="9" y="2" width="6" height="6" rx="1"/><path d="M5 16v-3a1 1 0 0 1 1-1h12a1 1 0 0 1 1 1v3"/><path d="M12 12V8"/></svg>
  <div class="it" style="left:96px;top:1079px;letter-spacing:0.60px">Correlations</div>
  <svg class="mi ico" style="left:364px;top:1075px" width="24" height="24" viewBox="0 0 24 24"><circle cx="12" cy="12" r="10"/></svg>
  <div class="it" style="left:417.5px;top:1079px;letter-spacing:0.94px">Histogram</div>
  <svg class="mi ico" style="left:42px;top:1165px" width="24" height="24" viewBox="0 0 24 24"><circle cx="12" cy="12" r="10"/></svg>
  <div class="it" style="left:96px;top:1169px;letter-spacing:0.94px">Outlier</div>
  <svg class="mi ico" style="left:364px;top:1165px" width="24" height="24" viewBox="0 0 24 24"><path d="M16 7h6v6"/><path d="m22 7-8.5 8.5-5-5L2 17"/></svg>
  <div class="it" style="left:417.5px;top:1169px;letter-spacing:0.77px">Summary</div>
<!--/MI-->
</div>

<!-- PAGER -->
<div id="pager">
  <svg class="abs ico" style="left:23.3px;top:24px;color:#6b7280" width="24" height="24" viewBox="0 0 24 24"><path d="m11 17-5-5 5-5M18 17l-5-5 5-5"/></svg>
  <svg class="abs ico" style="left:77.3px;top:24px;color:#6b7280" width="24" height="24" viewBox="0 0 24 24"><path d="m15 18-6-6 6-6"/></svg>
  <div class="t" id="tpg" style="left:144.5px;top:28.6px;font-size:20.5px;letter-spacing:-0.6px;color:#64748b"><span style="color:#5dbfb3">1</span> / 1</div>
  <svg class="abs ico" style="left:227.3px;top:24px;color:#6b7280" width="24" height="24" viewBox="0 0 24 24"><path d="m9 18 6-6-6-6"/></svg>
  <svg class="abs ico" style="left:281.3px;top:24px;color:#6b7280" width="24" height="24" viewBox="0 0 24 24"><path d="m6 17 5-5-5-5M13 17l5-5-5-5"/></svg>
</div>
</body>
</html>
